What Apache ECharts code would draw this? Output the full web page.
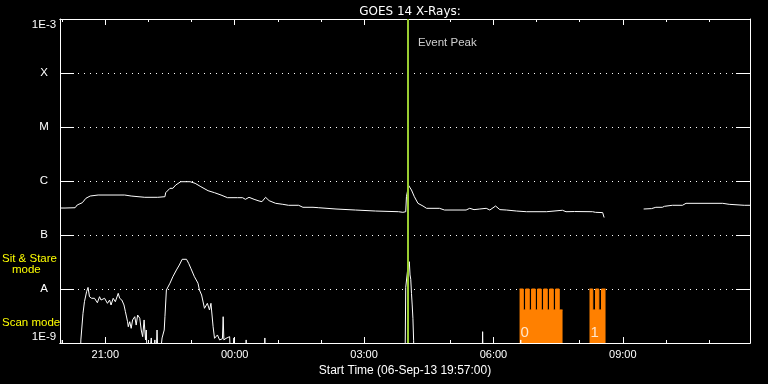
<!DOCTYPE html>
<html><head><meta charset="utf-8">
<script src="https://cdn.jsdelivr.net/npm/echarts@6/dist/echarts.min.js"></script>
<style>html,body{margin:0;padding:0;background:#000;}#c{width:768px;height:384px;}</style>
</head><body><div id="c"></div>
<script>
// ---- data (times are clock times starting 06-Sep-13 19:57) ----
const startTime = '19:57';
const endTime = '11:57';
const longTimes = ['19:57','20:04','20:18','20:21','20:28','20:33','20:39','20:50','21:27','21:36','21:55','22:13','22:23','22:24','22:30','22:34','22:38','22:45','22:58','23:05','23:13','23:23','23:32','23:41','23:50','00:04','00:11','00:15','00:20','00:27','00:34','00:38','00:43','00:48','00:57','01:07','01:15','01:29','01:35','01:49','01:57','02:21','02:48','03:16','03:48','03:54','03:58','03:59','04:02','04:06','04:10','04:15','04:22','04:27','04:45','04:52','05:22','05:27','05:33','05:41','05:50','05:55','06:03','06:09','06:18','06:32','06:46','07:14','07:15','07:36','07:41','07:53','08:18','08:22','08:32','08:34','09:00','09:29','09:40','09:42','09:46','09:55','09:58','10:09','10:23','10:28','11:19','11:21','11:28','11:30','11:49','11:51','11:57'];
const longFlux = [3.16e-7,3.16e-7,3.2e-7,3.6e-7,3.96e-7,4.78e-7,5.27e-7,5.5e-7,5.5e-7,5.27e-7,4.99e-7,4.99e-7,5.12e-7,6.07e-7,7.32e-7,7.32e-7,8.43e-7,9.7e-7,9.7e-7,9.06e-7,7.84e-7,6.61e-7,6.07e-7,5.5e-7,4.91e-7,4.91e-7,4.91e-7,4.58e-7,4.99e-7,4.58e-7,4.26e-7,4.14e-7,4.99e-7,4.32e-7,3.86e-7,3.7e-7,3.55e-7,3.55e-7,3.26e-7,3.26e-7,3.2e-7,3.03e-7,2.9e-7,2.78e-7,2.7e-7,2.63e-7,2.7e-7,5.12e-7,8.3e-7,6.81e-7,5.12e-7,3.86e-7,3.44e-7,3.12e-7,3.12e-7,2.9e-7,2.9e-7,3.12e-7,2.95e-7,3.03e-7,3.12e-7,2.9e-7,3.44e-7,2.95e-7,2.9e-7,2.78e-7,2.7e-7,2.7e-7,2.87e-7,2.87e-7,2.7e-7,2.72e-7,2.7e-7,2.63e-7,2.6e-7,2.11e-7,null,3.03e-7,3.08e-7,3.34e-7,3.26e-7,3.26e-7,3.4e-7,3.55e-7,3.55e-7,3.86e-7,3.86e-7,3.7e-7,3.7e-7,3.55e-7,3.55e-7,3.44e-7,3.55e-7];
const shortTimes = ['19:57','19:58','19:59','20:25','20:26','20:28','20:29','20:31','20:34','20:36','20:38','20:41','20:45','20:49','20:52','20:54','20:59','21:03','21:06','21:08','21:11','21:14','21:18','21:20','21:23','21:26','21:28','21:31','21:32','21:34','21:36','21:38','21:41','21:43','21:45','21:48','21:50','21:52','21:54','21:56','21:57','21:59','22:04','22:06','22:09','22:10','22:12','22:14','22:19','22:22','22:23','22:25','22:30','22:34','22:39','22:43','22:47','22:53','22:56','22:59','23:04','23:09','23:11','23:14','23:18','23:22','23:25','23:27','23:30','23:32','23:36','23:39','23:43','23:44','23:45','23:48','23:53','23:55','23:59','00:00','00:15','00:16','00:17','00:41','00:42','00:43','03:57','03:58','04:01','04:03','04:04','04:05','04:06','04:07','04:08','04:09','04:10','05:44','05:45','05:46','06:37','06:38','06:39','11:57'];
const shortFlux = [3e-10,1.14e-9,3e-10,3e-10,1.14e-9,1.24e-9,3.55e-9,5.82e-9,8.91e-9,1.07e-8,7.2e-9,6.73e-9,6.73e-9,5.57e-9,7.2e-9,6.25e-9,6.73e-9,5.43e-9,6.25e-9,5.06e-9,6.73e-9,5.82e-9,8.32e-9,6.73e-9,6.25e-9,5.06e-9,3.8e-9,2.48e-9,2.0e-9,2.48e-9,1.87e-9,2.67e-9,3.07e-9,2.15e-9,3.3e-9,2.87e-9,1.74e-9,1.31e-9,2.67e-9,1.14e-9,1.74e-9,3e-10,1.24e-9,3e-10,1.14e-9,3e-10,1.74e-9,3e-10,1.24e-9,1.74e-9,3.07e-9,9.58e-9,1.28e-8,1.69e-8,2.25e-8,2.78e-8,3.55e-8,3.55e-8,2.99e-8,2.42e-8,1.69e-8,1.28e-8,9.58e-9,7.74e-9,4.39e-9,5.43e-9,4.08e-9,5.43e-9,2.0e-9,1.22e-9,1.41e-9,1.14e-9,1.2e-9,3.07e-9,1.14e-9,1.22e-9,1.31e-9,3e-10,1.24e-9,3e-10,3e-10,1.14e-9,3e-10,3e-10,1.24e-9,3e-10,3e-10,1.07e-8,2.5e-8,3.2e-8,1.82e-8,1.51e-8,8.3e-9,5.06e-9,2.87e-9,1.1e-9,3e-10,3e-10,1.62e-9,3e-10,3e-10,1.14e-9,3e-10,3e-10];
const modeTimes = ['06:36:24','06:41:36','06:44:48','06:49:54','06:53:06','06:58:18','07:01:24','07:06:36','07:09:48','07:14:54','07:18:06','07:23:18','07:26:30','07:31:36','07:36:12','07:36:12','08:13:42','08:18:18','08:22:06','08:26:42','08:30:24','08:36:00'];
const modeFlux = [1e-8,4.1e-9,1e-8,4.1e-9,1e-8,4.1e-9,1e-8,4.1e-9,1e-8,4.1e-9,1e-8,4.1e-9,1e-8,4.1e-9,4.1e-9,null,1e-8,4.1e-9,1e-8,4.1e-9,1e-8,1e-8];
const modeLabelTimes = ['06:36:24','08:13:42'];
const modeLabelText = ['0','1'];
const peakTime = '04:01';
const peakLabel = 'Event Peak';
const yTickValues = [1e-9,1e-8,1e-7,1e-6,1e-5,1e-4,1e-3];
const yTickLabels = ['1E-9','A','B','C','M','X','1E-3'];
const xMajorTicks = ['21:00','00:00','03:00','06:00','09:00'];
const xMinorTicks = ['20:00','21:00','22:00','23:00','00:00','01:00','02:00','03:00','04:00','05:00','06:00','07:00','08:00','09:00','10:00','11:00'];
const titleText = 'GOES 14 X-Rays:';
const xName = 'Start Time (06-Sep-13 19:57:00)';

// ---- helpers ----
function toMin(s){const p=s.split(':').map(Number);let m=p[0]*60+p[1]+(p[2]||0)/60;if(p[0]<19)m+=1440;return m;}
function fmt(v){const t=Math.round(v);const h=Math.floor(t/60)%24;const mi=t%60;return String(h).padStart(2,'0')+':'+String(mi).padStart(2,'0');}
function pairs(ts,vs){return ts.map((t,i)=>[toMin(t), vs[i]===null?'-':vs[i]]);}
const X0=toMin(startTime), X1=toMin(endTime);
const majorMins=xMajorTicks.map(toMin), minorMins=xMinorTicks.map(toMin);
const W='#ffffff';

function xAx(pos,len,vals,labels,extra){
  return Object.assign({type:'value',min:X0,max:X1,position:pos,
    axisLine:{show:true,onZero:false,lineStyle:{color:W,width:1}},
    axisTick:{show:true,inside:true,length:len,customValues:vals,lineStyle:{color:W,width:1}},
    axisLabel:labels?{show:true,customValues:vals,formatter:fmt,color:W,fontFamily:'Liberation Sans',fontSize:11,margin:6}:{show:false},
    splitLine:{show:false}},extra||{});
}
function yLab(v){const e=Math.round(Math.log10(v));const i=yTickValues.findIndex(t=>Math.round(Math.log10(t))===e);return i<0?'':yTickLabels[i];}

const chart=echarts.init(document.getElementById('c'),null,{renderer:'canvas'});
chart.setOption({
  backgroundColor:'#000',
  animation:false,
  title:{text:titleText,left:405,top:1,textAlign:'center',textStyle:{color:W,fontFamily:'DejaVu Sans',fontSize:12,fontWeight:'normal'}},
  grid:{left:60,right:18,top:19,bottom:41,containLabel:false},
  xAxis:[
    xAx('bottom',6,majorMins,true,{name:xName,nameLocation:'middle',nameGap:18,nameTextStyle:{color:W,fontFamily:'Liberation Sans',fontSize:12}}),
    xAx('bottom',3,minorMins,false),
    xAx('top',6,majorMins,false),
    xAx('top',3,minorMins,false)
  ],
  yAxis:[
    {type:'log',logBase:10,min:1e-9,max:1e-3,position:'left',
     axisLine:{show:true,onZero:false,lineStyle:{color:W}},
     axisTick:{show:true,inside:true,length:14,customValues:yTickValues,lineStyle:{color:W}},
     axisLabel:{show:true,customValues:yTickValues,formatter:yLab,color:W,fontFamily:'Liberation Sans',fontSize:11.5,align:'center',margin:16,verticalAlignMinLabel:'bottom',verticalAlignMaxLabel:'top'},
     splitLine:{show:true,lineStyle:{color:W,width:1,type:[1,5]}}},
    {type:'log',logBase:10,min:1e-9,max:1e-3,position:'right',
     axisLine:{show:true,onZero:false,lineStyle:{color:W}},
     axisTick:{show:true,inside:true,length:14,customValues:yTickValues,lineStyle:{color:W}},
     axisLabel:{show:false},splitLine:{show:false}}
  ],
  graphic:[
    {type:'text',left:2,top:253,style:{text:'Sit & Stare',fill:'#ffff00',font:'11.5px "Liberation Sans"'}},
    {type:'text',left:12,top:264,style:{text:'mode',fill:'#ffff00',font:'11.5px "Liberation Sans"'}},
    {type:'text',left:2,top:317,style:{text:'Scan mode',fill:'#ffff00',font:'11.5px "Liberation Sans"'}}
  ],
  series:[
    {type:'line',name:'mode',data:pairs(modeTimes,modeFlux),step:'end',showSymbol:false,connectNulls:false,
     lineStyle:{color:'#ff8000',width:1},areaStyle:{color:'#ff8000',opacity:1,origin:'start'},z:1,silent:true},
    {type:'line',name:'long',data:pairs(longTimes,longFlux),showSymbol:false,connectNulls:false,
     lineStyle:{color:W,width:1},z:3,silent:true},
    {type:'line',name:'short',data:pairs(shortTimes,shortFlux),showSymbol:false,connectNulls:false,
     lineStyle:{color:W,width:1},z:3,silent:true},
    {type:'scatter',name:'modeLabels',data:modeLabelTimes.map(t=>[toMin(t),1e-9]),symbolSize:0,clip:false,silent:true,z:4,
     label:{show:true,position:[1,-18],formatter:p=>modeLabelText[p.dataIndex],color:W,fontFamily:'Liberation Sans',fontSize:15}},
    {type:'scatter',name:'peak',data:[[toMin(peakTime),1e-4]],symbolSize:0,clip:false,silent:true,z:6,
     label:{show:true,position:[10,-36],formatter:peakLabel,color:W,fontFamily:'Liberation Sans',fontSize:11.5},
     markLine:{silent:true,symbol:['none','none'],label:{show:false},lineStyle:{color:'#9acd32',width:2,type:'solid'},data:[{xAxis:toMin(peakTime)}]}}
  ]
});
</script></body></html>
